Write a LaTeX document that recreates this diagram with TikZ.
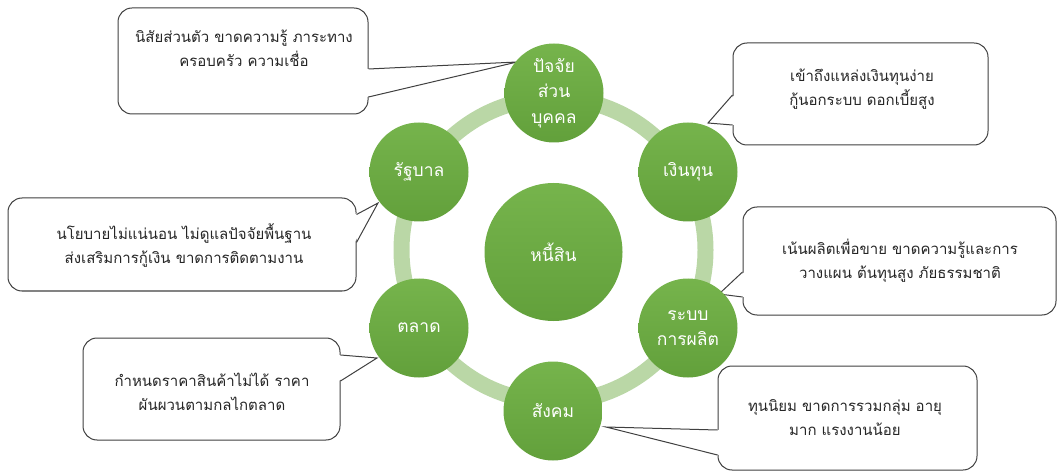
\documentclass[tikz,border=0pt]{standalone}
\usepackage{fontspec}
\newfontfamily\thai[Script=Thai]{Loma}
\usetikzlibrary{calc}
\definecolor{cgreen}{HTML}{6EAB45}
\definecolor{ctop}{HTML}{76B44C}
\definecolor{cbot}{HTML}{62A03B}
\definecolor{ringc}{HTML}{BAD7A6}
\definecolor{cborder}{HTML}{404040}
\definecolor{ctxt}{HTML}{262626}
\begin{document}
\begin{tikzpicture}[x=1pt,y=-1pt,
  bubble/.style={circle, top color=ctop, bottom color=cbot, draw=none, text=white, minimum size=99pt, inner sep=0pt, align=center, font=\thai\fontsize{17.5}{25.5}\selectfont},
  callout/.style={draw=cborder, line width=1pt, fill=white, rounded corners=14pt, inner sep=0pt},
  ctext/.style={align=center, text=ctxt, inner sep=0pt, font=\thai\fontsize{15}{24}\selectfont},
  pointer/.style={draw=cborder, line width=1pt, line join=miter},
]
\useasboundingbox (0,0) rectangle (1058,473);
% ring
\draw[ringc, line width=16pt] (553.5,250) circle [radius=152pt];
% callout boxes
\node[callout, minimum width=250pt, minimum height=106pt] (c1) at (243,61) {};
\node[callout, minimum width=255pt, minimum height=102pt] (c2) at (860.5,94) {};
\node[callout, minimum width=313pt, minimum height=108pt] (c3) at (899.5,261) {};
\node[callout, minimum width=259pt, minimum height=104pt] (c4) at (847.5,418) {};
\node[callout, minimum width=348pt, minimum height=93pt] (c5) at (182,244.5) {};
\node[callout, minimum width=257pt, minimum height=102pt] (c6) at (211.5,389) {};
% pointer tips
\coordinate (t1) at (517,62);
\coordinate (t2) at (708,123);
\coordinate (t3) at (719,294);
\coordinate (t4) at (606,427);
\coordinate (t5) at (378,203);
\coordinate (t6) at (377,358);
% pointers on the east side (offsets from box centre line)
\foreach \c/\t/\a/\b in {c1/t1/8/36, c5/t5/-30/-2, c6/t6/-34/-8}{
  \fill[white] ($(\c.east)+(-2,\a)$) -- (\t) -- ($(\c.east)+(-2,\b)$) -- cycle;
  \draw[pointer] ($(\c.east)+(0,\a)$) -- (\t) -- ($(\c.east)+(0,\b)$);
}
% pointers on the west side
\foreach \c/\t/\a/\b in {c2/t2/1/31, c3/t3/11/36, c4/t4/12/37}{
  \fill[white] ($(\c.west)+(2,\a)$) -- (\t) -- ($(\c.west)+(2,\b)$) -- cycle;
  \draw[pointer] ($(\c.west)+(0,\a)$) -- (\t) -- ($(\c.west)+(0,\b)$);
}
% callout texts
\node[ctext] (c1t) at (244,48) {นิสัยส่วนตัว ขาดความรู้ ภาระทาง\\ครอบครัว ความเชื่อ};
\node[ctext] (c2t) at (862,89) {เข้าถึงแหล่งเงินทุนง่าย\\กู้นอกระบบ ดอกเบี้ยสูง};
\node[ctext] (c3t) at (900,261) {เน้นผลิตเพื่อขาย ขาดความรู้และการ\\วางแผน ต้นทุนสูง ภัยธรรมชาติ};
\node[ctext] (c4t) at (845,417.5) {ทุนนิยม ขาดการรวมกลุ่ม อายุ\\มาก แรงงานน้อย};
\node[ctext] (c5t) at (184,246) {นโยบายไม่แน่นอน ไม่ดูแลปัจจัยพื้นฐาน\\ส่งเสริมการกู้เงิน ขาดการติดตามงาน};
\node[ctext] (c6t) at (212,392) {กำหนดราคาสินค้าไม่ได้ ราคา\\ผันผวนตามกลไกตลาด};
% circles
\node[bubble, minimum size=138pt] (center) at (553.5,252) {หนี้สิน};
\node[bubble] (p1) at (554,93) {ปัจจัย\\ส่วน\\บุคคล};
\node[bubble] (p2) at (688,172) {เงินทุน};
\node[bubble] (p3) at (688,328) {ระบบ\\การผลิต};
\node[bubble] (p4) at (553,411) {สังคม};
\node[bubble] (p5) at (419,328) {ตลาด};
\node[bubble] (p6) at (419,172) {รัฐบาล};
\end{tikzpicture}
\end{document}
